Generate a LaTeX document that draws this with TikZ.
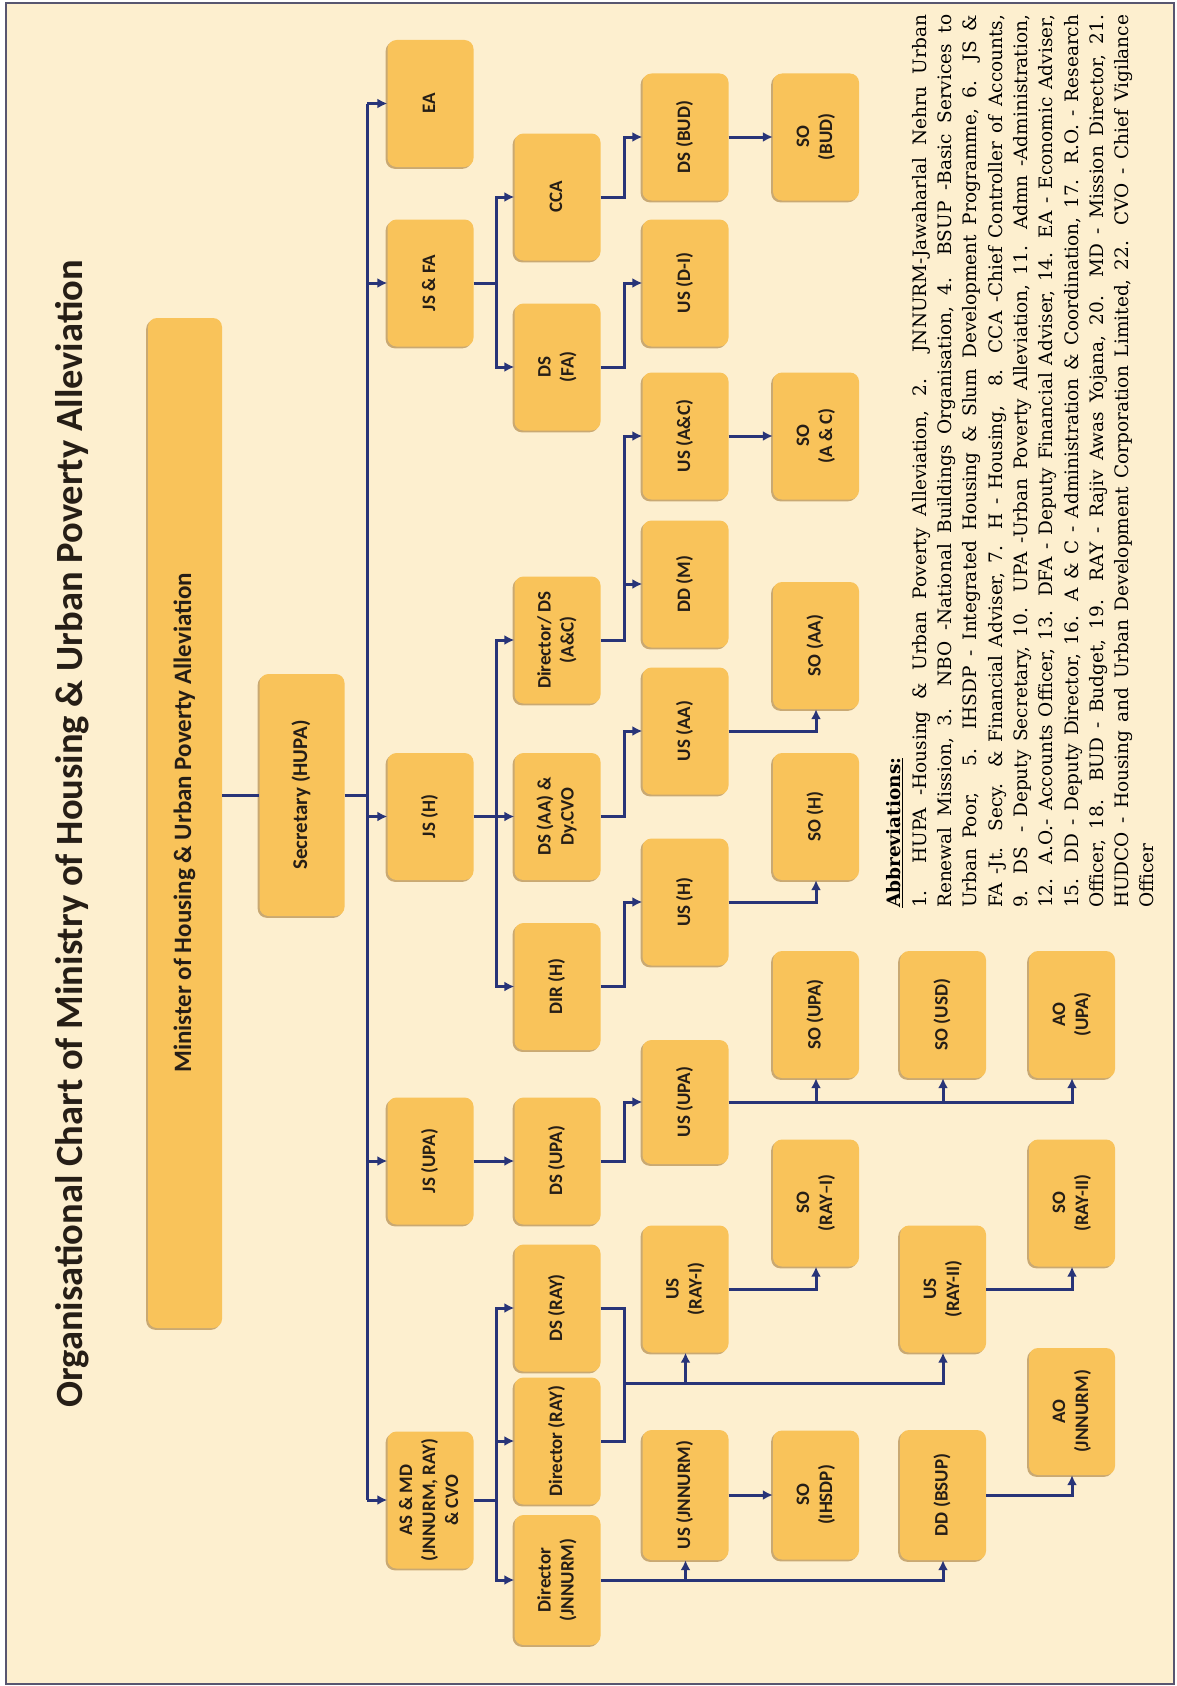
\documentclass[tikz,border=0pt]{standalone}
\usepackage{fontspec}
\usepackage{graphicx}
\newfontfamily\chartfont{Carlito}
\newfontfamily\abbrfont{DejaVu Serif}
\usetikzlibrary{arrows.meta,shadows}
\definecolor{cream}{RGB}{253,239,207}
\definecolor{boxfill}{RGB}{249,195,90}
\definecolor{boxshade}{RGB}{160,112,40}
\definecolor{wireblue}{RGB}{40,52,120}
\definecolor{framegray}{RGB}{88,86,112}
\definecolor{inkdark}{RGB}{38,30,22}
\newcommand{\rtxt}[1]{\rotatebox{90}{\begin{tabular}{@{}c@{}}#1\end{tabular}}}
\newcommand{\fullline}[1]{\hbox to 893pt{\spaceskip=.32em plus 2em minus .05em\relax #1}}

\begin{document}
\begin{tikzpicture}[x=1pt,y=-1pt,
  office/.style={fill=boxfill,rounded corners=9pt,minimum width=86pt,minimum height=127pt,inner sep=2pt,text=inkdark,font=\chartfont\bfseries\fontsize{19}{23}\selectfont,drop shadow={shadow xshift=-1.8pt,shadow yshift=-1.8pt,fill=boxshade,opacity=.55}},
  wire/.style={draw=wireblue,line width=3pt},
  wirearr/.style={wire,-{Latex[length=10pt,width=10pt]}}]

% page and frame
\useasboundingbox (0,0) rectangle (1176,1686);
\fill[white] (0,0) rectangle (1176,1686);
\fill[cream] (6,3) rectangle (1174,1684);
\draw[framegray,line width=2.5pt] (6,3) rectangle (1174,1684);

% title
\node[rotate=90,anchor=base,text=inkdark,font=\chartfont\bfseries\fontsize{38.5}{46}\selectfont] (title) at (82,834) {Organisational Chart of Ministry of Housing \& Urban Poverty Alleviation};

% top of the chart
\node[office,minimum width=74pt,minimum height=1010pt,font=\chartfont\bfseries\fontsize{25}{30}\selectfont] (minister) at (185,823) {\rtxt{Minister of Housing \& Urban Poverty Alleviation}};
\node[office,minimum width=85pt,minimum height=242pt,font=\chartfont\bfseries\fontsize{21}{25}\selectfont] (secretary) at (302,795) {\rtxt{Secretary (HUPA)}};

% second level
\node[office] (ea) at (430.5,103.5) {\rtxt{EA}};
\node[office] (jsfa) at (430.5,283) {\rtxt{JS \& FA}};
\node[office] (jsh) at (430.5,816.5) {\rtxt{JS (H)}};
\node[office] (jsupa) at (430.5,1161) {\rtxt{JS (UPA)}};
\node[office,minimum height=137pt] (asmd) at (430.5,1500) {\rtxt{AS \& MD\\(JNNURM, RAY)\\\& CVO}};

% third level
\node[office] (cca) at (557.5,197) {\rtxt{CCA}};
\node[office] (dsfa) at (557.5,367) {\rtxt{DS\\(FA)}};
\node[office] (dirdsac) at (557.5,640) {\rtxt{Director/ DS\\(A\&C)}};
\node[office] (dsaa) at (557.5,816.5) {\rtxt{DS (AA) \&\\Dy.CVO}};
\node[office] (dirh) at (557.5,986.5) {\rtxt{DIR (H)}};
\node[office] (dsupa) at (557.5,1161) {\rtxt{DS (UPA)}};
\node[office] (dsray) at (557.5,1308) {\rtxt{DS (RAY)}};
\node[office] (dirray) at (557.5,1441) {\rtxt{Director (RAY)}};
\node[office,minimum height=130pt] (dirjnnurm) at (557.5,1580) {\rtxt{Director\\(JNNURM)}};

% fourth level
\node[office] (dsbud) at (685.5,137) {\rtxt{DS (BUD)}};
\node[office] (usdi) at (685.5,283) {\rtxt{US (D-I)}};
\node[office] (usac) at (685.5,436) {\rtxt{US (A\&C)}};
\node[office] (ddm) at (685.5,584) {\rtxt{DD (M)}};
\node[office] (usaa) at (685.5,731) {\rtxt{US (AA)}};
\node[office] (ush) at (685.5,902) {\rtxt{US (H)}};
\node[office,minimum height=124pt] (usupa) at (685.5,1102) {\rtxt{US (UPA)}};
\node[office] (usray1) at (685.5,1289) {\rtxt{US\\(RAY-I)}};
\node[office,minimum height=130pt] (usjnnurm) at (685.5,1495) {\rtxt{US (JNNURM)}};

% fifth to seventh level
\node[office] (sobud) at (816,137) {\rtxt{SO\\(BUD)}};
\node[office] (soac) at (816,436) {\rtxt{SO\\(A \& C)}};
\node[office] (soaa) at (816,645.5) {\rtxt{SO (AA)}};
\node[office] (soh) at (816,816.5) {\rtxt{SO (H)}};
\node[office] (soupa) at (816,1014.5) {\rtxt{SO (UPA)}};
\node[office] (soray1) at (816,1203) {\rtxt{SO\\(RAY–I)}};
\node[office,minimum height=129pt] (soihsdp) at (816,1495) {\rtxt{SO\\(IHSDP)}};
\node[office] (sousd) at (943,1014.5) {\rtxt{SO (USD)}};
\node[office] (usray2) at (943,1289) {\rtxt{US\\(RAY-II)}};
\node[office,minimum height=130pt] (ddbsup) at (943,1495) {\rtxt{DD (BSUP)}};
\node[office] (aoupa) at (1072,1014.5) {\rtxt{AO\\(UPA)}};
\node[office] (soray2) at (1072,1203) {\rtxt{SO\\(RAY-II)}};
\node[office] (aojnnurm) at (1072,1411.5) {\rtxt{AO\\(JNNURM)}};

% abbreviations
\node[rotate=90,anchor=north west,inner sep=0pt,text=black,font=\abbrfont\fontsize{18.5}{25.3}\selectfont] (abbr) at (883,908) {%
\begin{tabular}{@{}l@{}}
\underline{\textbf{Abbreviations:}}\\
\fullline{1. HUPA -Housing \& Urban Poverty Alleviation, 2. JNNURM-Jawaharlal Nehru Urban}\\
\fullline{Renewal Mission, 3. NBO -National Buildings Organisation, 4. BSUP -Basic Services to}\\
\fullline{Urban Poor,\hspace{.8em} 5. IHSDP - Integrated Housing \& Slum Development Programme, 6. JS \&}\\
\fullline{FA -Jt. Secy. \& Financial Adviser, 7. H - Housing,\hspace{.5em} 8. CCA -Chief Controller of Accounts,}\\
\fullline{9. DS\hspace{.3em} - Deputy Secretary, 10. UPA -Urban Poverty Alleviation, 11. Admn -Administration,}\\
\fullline{12. A.O.- Accounts Officer, 13. DFA - Deputy Financial Adviser, 14. EA - Economic Adviser,}\\
\fullline{15. DD - Deputy Director, 16. A \& C - Administration \& Coordination, 17. R.O. - Research}\\
\fullline{Officer, 18. BUD - Budget, 19. RAY - Rajiv Awas Yojana, 20. MD - Mission Director, 21.}\\
\fullline{HUDCO - Housing and Urban Development Corporation Limited, 22. CVO - Chief Vigilance}\\
Officer
\end{tabular}};

% connectors
\coordinate (trunk) at (367,0);
\coordinate (bus) at (496,0);
\coordinate (bus2) at (624,0);
\coordinate (rayjoin) at (624,1383.5);
\draw[wire] (minister.east |- secretary.west) -- (secretary.west);
\draw[wire] (secretary.east) -- (secretary.east -| trunk);
\draw[wire] (ea.west -| trunk) -- (asmd.west -| trunk);
\foreach \n in {ea,jsfa,jsh,jsupa,asmd}
  \draw[wirearr] (\n.west -| trunk) -- (\n.west);

\draw[wirearr] (jsfa.east) -- (jsfa.east -| bus) |- (cca.west);
\draw[wirearr] (jsfa.east -| bus) |- (dsfa.west);
\draw[wirearr] (jsh.east) -- (dsaa.west);
\draw[wirearr] (jsh.east -| bus) |- (dirdsac.west);
\draw[wirearr] (jsh.east -| bus) |- (dirh.west);
\draw[wirearr] (jsupa.east) -- (dsupa.west);
\draw[wire] (asmd.east) -- (asmd.east -| bus);
\draw[wirearr] (asmd.east -| bus) |- (dsray.west);
\draw[wirearr] (asmd.east -| bus) |- (dirray.west);
\draw[wirearr] (asmd.east -| bus) |- (dirjnnurm.west);

\draw[wirearr] (cca.east) -- (cca.east -| bus2) |- (dsbud.west);
\draw[wirearr] (dsfa.east) -- (dsfa.east -| bus2) |- (usdi.west);
\draw[wirearr] (dirdsac.east) -- (dirdsac.east -| bus2) |- (usac.west);
\draw[wirearr] (dirdsac.east -| bus2) |- (ddm.west);
\draw[wirearr] (dsaa.east) -- (dsaa.east -| bus2) |- (usaa.west);
\draw[wirearr] (dirh.east) -- (dirh.east -| bus2) |- (ush.west);
\draw[wirearr] (dsupa.east) -- (dsupa.east -| bus2) |- (usupa.west);
\draw[wire] (dsray.east) -- (dsray.east -| bus2) |- (dirray.east);
\draw[wirearr] (rayjoin) -| (usray2.south);
\draw[wirearr] (rayjoin -| usray1.south) -- (usray1.south);
\draw[wirearr] (dirjnnurm.east) -| (ddbsup.south);
\draw[wirearr] (dirjnnurm.east -| usjnnurm.south) -- (usjnnurm.south);

\draw[wirearr] (dsbud.east) -- (sobud.west);
\draw[wirearr] (usac.east) -- (soac.west);
\draw[wirearr] (usaa.east) -| (soaa.south);
\draw[wirearr] (ush.east) -| (soh.south);
\draw[wirearr] (usupa.east) -| (aoupa.south);
\draw[wirearr] (usupa.east -| soupa.south) -- (soupa.south);
\draw[wirearr] (usupa.east -| sousd.south) -- (sousd.south);
\draw[wirearr] (usray1.east) -| (soray1.south);
\draw[wirearr] (usray2.east) -| (soray2.south);
\draw[wirearr] (usjnnurm.east) -- (soihsdp.west);
\draw[wirearr] (ddbsup.east) -| (aojnnurm.south);
\end{tikzpicture}
\end{document}
